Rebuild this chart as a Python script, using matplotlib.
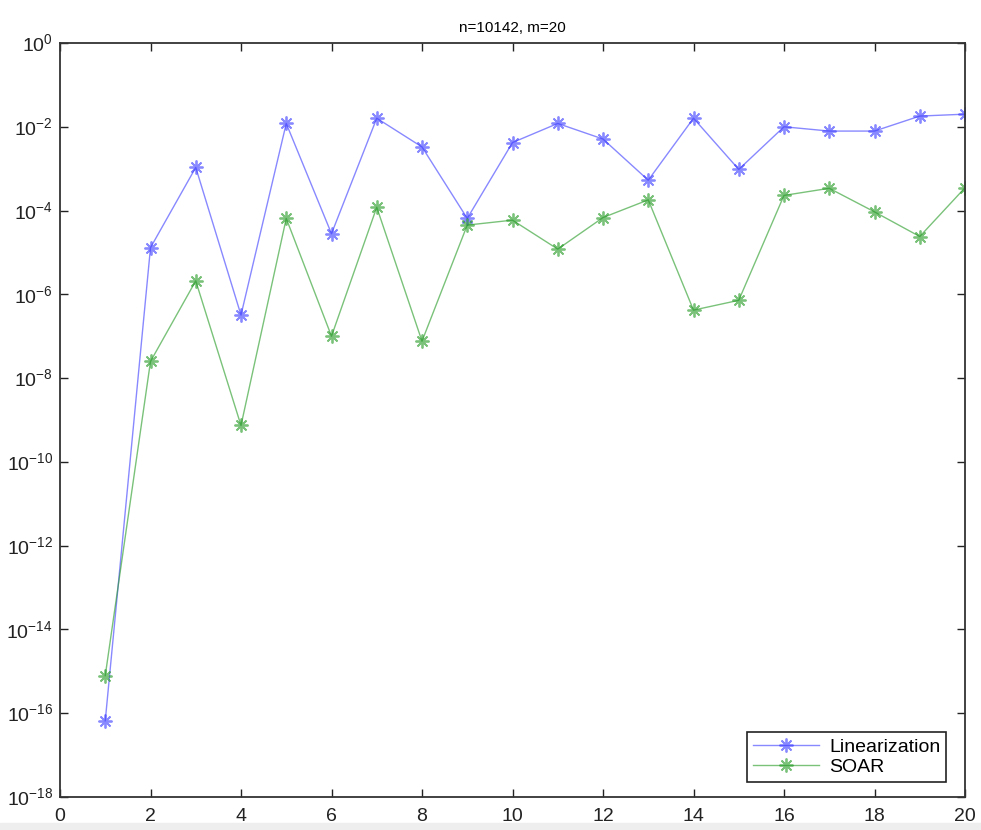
import numpy as np
import matplotlib.pyplot as plt
from matplotlib.patches import Rectangle

plt.rcParams["font.family"] = ["Liberation Sans", "DejaVu Sans"]
plt.rcParams["mathtext.fontset"] = "custom"
plt.rcParams["mathtext.rm"] = "Liberation Sans"

iters = np.arange(1, 21)
linearization = [6.6e-17, 1.3e-5, 1.07e-3, 3.2e-7, 1.2e-2, 2.8e-5, 1.6e-2, 3.3e-3, 6.5e-5, 4.2e-3,
                 1.2e-2, 5.1e-3, 5.3e-4, 1.6e-2, 9.6e-4, 1.0e-2, 7.9e-3, 7.9e-3, 1.8e-2, 2.0e-2]
soar = [7.9e-16, 2.5e-8, 2.1e-6, 7.4e-10, 6.5e-5, 1.0e-7, 1.2e-4, 7.6e-8, 4.5e-5, 5.9e-5,
        1.2e-5, 6.8e-5, 1.8e-4, 4.2e-7, 7.2e-7, 2.3e-4, 3.4e-4, 9.3e-5, 2.4e-5, 3.5e-4]
title = "n=10142, m=20"

fig = plt.figure(figsize=(9.81, 8.30), dpi=100)
ax = fig.add_axes([60 / 981, 33 / 830, 905 / 981, 754 / 830])

star = (8, 2, 0)
ax.plot(iters, linearization, color="#3a3aff", alpha=0.6, lw=1.0,
        marker=star, ms=10, mew=1.3, label="Linearization")
ax.plot(iters, soar, color="#229922", alpha=0.6, lw=1.0,
        marker=star, ms=10, mew=1.3, label="SOAR")

ax.set_yscale("log")
ax.set_xlim(0, 20)
ax.set_ylim(1e-18, 1e0)
ax.set_xticks(np.arange(0, 21, 2))
ax.set_yticks([10.0 ** k for k in range(-18, 1, 2)])
ax.set_yticklabels([rf"$10^{{{k}}}$" for k in range(-18, 1, 2)])
ax.minorticks_off()
ax.tick_params(direction="in", top=True, right=True, length=6, width=1,
               labelsize=14, colors="#222222")
ax.tick_params(axis="x", pad=8)
ax.tick_params(axis="y", pad=5)
for s in ax.spines.values():
    s.set_color("#333333")
    s.set_linewidth(1.3)

ax.set_title(title, fontsize=11, pad=8)

leg = ax.legend(loc="lower right", bbox_to_anchor=(0.979, 0.02), borderaxespad=0,
                fontsize=14, fancybox=False, edgecolor="#222222", framealpha=1,
                handlelength=3.4, borderpad=0.3, labelspacing=0.15, handletextpad=0.5)
leg.get_frame().set_linewidth(1.2)

fig.patches.append(Rectangle((0, 0), 1, 7 / 830, transform=fig.transFigure,
                             color="#eeeeee", zorder=-1))

fig.savefig("out.png", dpi=100)
